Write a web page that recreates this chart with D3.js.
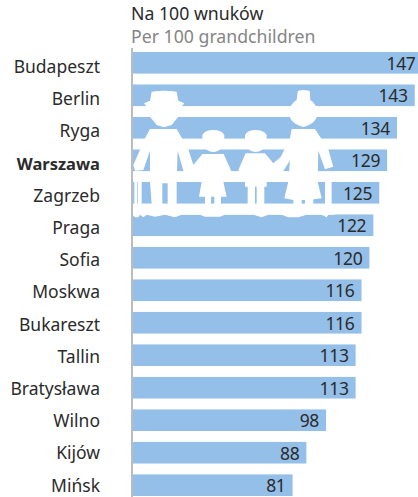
<!DOCTYPE html>
<html><head><meta charset="utf-8">
<script src="https://cdnjs.cloudflare.com/ajax/libs/d3/7.8.5/d3.min.js"></script>
<style>html,body{margin:0;padding:0;background:#fff}svg{display:block}text{font-family:"Noto Sans",sans-serif}</style>
</head><body><svg id="c" width="418" height="497"></svg>
<script>
const cities=["Budapeszt","Berlin","Ryga","Warszawa","Zagrzeb","Praga","Sofia","Moskwa","Bukareszt","Tallin","Bratysława","Wilno","Kijów","Mińsk"];
const values=[147,143,134,129,125,122,120,116,116,113,113,98,88,81];
const highlighted="Warszawa";
const titlePl="Na 100 wnuków", titleEn="Per 100 grandchildren";

const svg=d3.select("#c");
const x=d3.scaleLinear().domain([0,100]).range([133,330]);
const y=d3.scaleBand().domain(cities).range([52,496]).paddingInner(0.335).paddingOuter(0).align(0);
const yLabel=d3.scalePoint().domain(cities).range([73,491.7]);

svg.selectAll("rect.b").data(values).join("rect").attr("class","b")
 .attr("x",x(0)).attr("y",(d,i)=>y(cities[i])).attr("width",d=>x(d)-x(0)).attr("height",y.bandwidth()).attr("fill","#93bfe8");

// family silhouette (decoration), drawn in a 3x local space
const fam=svg.append("g").attr("transform","translate(125,80) scale(0.3333)").attr("fill","#fff");
const shapes=[
 "M80,35 Q118,30 155,35 L160,62 L178,70 L170,80 L160,110 L140,135 L117,142 L95,135 L75,110 L65,80 L57,70 L75,62 Z",
 "M75,147 L155,147 L190,208 L205,255 L235,225 L240,290 L200,285 L175,272 L158,212 L155,305 L155,372 L128,372 L128,310 L112,310 L112,372 L80,372 L75,305 L75,212 L55,270 L30,272 L25,255 L60,175 Z",
 "M28,305 L36,305 L36,372 L28,372 Z M38,305 L50,305 L50,372 L38,372 Z",
 "M232,165 Q240,150 265,150 Q290,150 298,165 L298,195 Q285,215 265,216 Q245,215 232,195 Z",
 "M232,222 L296,222 L320,275 L325,305 L295,305 L305,350 L288,350 L288,372 L268,372 L268,350 L258,350 L258,372 L240,372 L240,350 L222,350 L230,305 L225,270 L205,255 Z",
 "M360,165 Q368,150 392,150 Q416,150 425,165 L425,195 Q412,215 392,216 Q372,215 360,195 Z",
 "M362,220 L420,220 L445,250 L495,208 L495,240 L475,272 L440,280 L425,305 L425,320 L418,320 L418,372 L395,372 L395,320 L390,320 L390,372 L368,372 L368,320 L360,320 L360,290 L340,270 Z",
 "M518,35 Q520,30 535,30 Q552,30 555,35 L556,60 Q575,72 579,97 Q575,132 535,141 Q495,132 491,97 Q495,72 515,60 Z",
 "M500,147 L570,147 L610,208 L625,260 L600,268 L580,212 L578,305 L590,355 L565,358 L565,372 L540,372 L540,360 L530,360 L530,372 L505,372 L505,360 L478,355 L490,305 L495,240 L475,272 L450,265 L495,175 Z",
 "M600,305 L620,305 L620,372 L600,372 Z",
 "M22,372 L630,372 L630,404 L610,404 L605,412 L590,404 L570,404 L545,404 L520,412 L490,412 L470,404 L430,404 L410,412 L385,404 L350,404 L300,404 L285,410 L240,410 L225,404 L170,404 L150,412 L120,404 L90,410 L65,404 L55,412 L45,404 L40,412 L30,412 L22,404 Z"
];
fam.selectAll("path").data(shapes).join("path").attr("d",d=>d);

svg.selectAll("text.v").data(values).join("text").attr("class","v")
 .attr("x",d=>x(d)-7).attr("y",(d,i)=>y(cities[i])+y.bandwidth()/2+7).attr("text-anchor","end")
 .attr("font-size",17.5).attr("letter-spacing",-0.3).attr("fill","#2b2b2b").text(d=>d);
svg.selectAll("text.l").data(cities).join("text").attr("class","l")
 .attr("x",100).attr("y",d=>yLabel(d)).attr("text-anchor","end")
 .attr("font-size",d=>d===highlighted?16.5:17.5).attr("fill","#2b2b2b").attr("font-weight",d=>d===highlighted?700:400).text(d=>d);

svg.append("line").attr("x1",132).attr("x2",132).attr("y1",48).attr("y2",497).attr("stroke","#bcbcc0").attr("stroke-width",2);
svg.append("text").attr("x",131).attr("y",20).attr("font-size",17.7).attr("fill","#2b2b2b").text(titlePl);
svg.append("text").attr("x",131).attr("y",43).attr("font-size",17.7).attr("fill","#858585").text(titleEn);
</script></body></html>
